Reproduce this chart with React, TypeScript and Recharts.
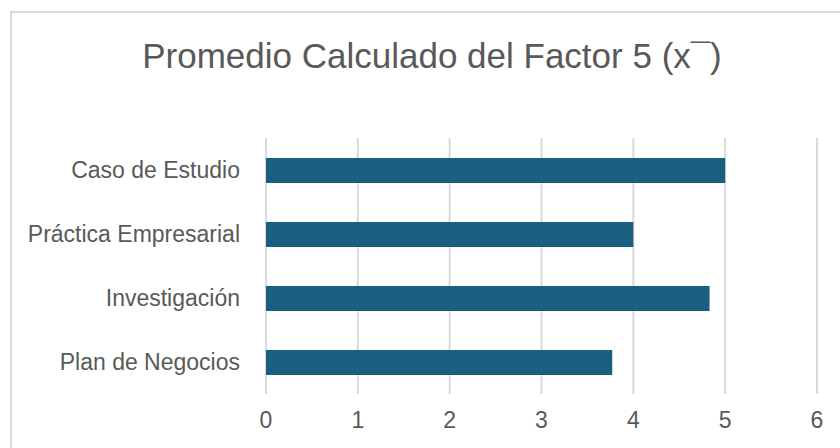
import React from 'react';
import { Bar, BarChart, CartesianGrid, XAxis, YAxis } from 'recharts';

const categories = ['Caso de Estudio', 'Práctica Empresarial', 'Investigación', 'Plan de Negocios'];
const promedios = [5.0, 4.0, 4.83, 3.77];
const xTicks = [0, 1, 2, 3, 4, 5, 6];

const data = categories.map((name, i) => ({ name, value: promedios[i] }));

const FONT = '"Liberation Sans Narrow", "Liberation Sans", sans-serif';
const TEXT = '#595959';

export default function App() {
  return (
    <div
      style={{
        position: 'absolute',
        left: 0,
        top: 0,
        width: 840,
        height: 448,
        overflow: 'hidden',
        background: '#fff',
        fontFamily: FONT,
      }}
    >
      <div
        style={{
          position: 'absolute',
          left: 10,
          top: 11,
          width: 860,
          height: 460,
          border: '2px solid #d9d9d9',
        }}
      />
      <div
        style={{
          position: 'absolute',
          left: 0,
          top: 38,
          width: 864,
          textAlign: 'center',
          fontSize: 35,
          lineHeight: '35px',
          color: TEXT,
        }}
      >
        Promedio Calculado del Factor 5 (x¯)
      </div>
      <div style={{ position: 'absolute', left: 0, top: 0 }}>
        <BarChart
          width={840}
          height={448}
          data={data}
          layout="vertical"
          margin={{ top: 138, right: 23, bottom: 0, left: 0 }}
          barCategoryGap={0}
        >
          <CartesianGrid horizontal={false} stroke="#d9d9d9" strokeWidth={2} />
          <XAxis
            type="number"
            domain={[0, 6]}
            ticks={xTicks}
            height={54}
            axisLine={false}
            tickLine={false}
            tickMargin={12}
            tick={{ fill: TEXT, fontSize: 23, fontFamily: FONT }}
          />
          <YAxis
            type="category"
            dataKey="name"
            width={266}
            axisLine={false}
            tickLine={false}
            tickMargin={20}
            tick={{ fill: TEXT, fontSize: 23, fontFamily: FONT }}
          />
          <Bar dataKey="value" fill="#185f80" barSize={25} isAnimationActive={false} />
        </BarChart>
      </div>
    </div>
  );
}
